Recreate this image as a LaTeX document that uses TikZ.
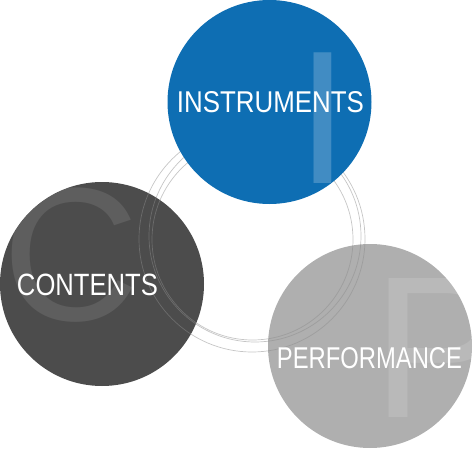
\documentclass[tikz,border=0pt]{standalone}
\usepackage{fontspec}
\setmainfont{Liberation Sans}
\definecolor{blueC}{HTML}{0E6EB3}
\definecolor{darkC}{HTML}{4C4C4C}
\definecolor{grayC}{HTML}{AFAFAF}
\begin{document}
\begin{tikzpicture}[x=1pt,y=-1pt,
  disc/.style={circle, inner sep=0pt, minimum size=204pt},
  ringline/.style={draw=black!45, draw opacity=0.5, line width=0.7pt},
  caption/.style={text=white, inner sep=0pt},
  bigletter/.style={text=white, inner sep=0pt, anchor=base west}]
\useasboundingbox (0,0) rectangle (475,450);
% lower circles
\node[disc, fill=darkC] (contents) at (102,284) {};
\node[disc, fill=grayC] (performance) at (370,346) {};
\begin{scope}
  \clip (contents.center) circle[radius=102pt];
  \node[bigletter, text opacity=0.1, font=\fontsize{190}{190}\selectfont] (bigC) at (2.5,320) {C};
\end{scope}
\begin{scope}
  \clip (performance.center) circle[radius=102pt];
  \node[bigletter, text opacity=0.13, font=\fontsize{202}{202}\selectfont] (bigP) at (372,417) {P};
\end{scope}
% rings
\node[circle, ringline, inner sep=0pt, minimum size=226pt] (ringA) at (252,239) {};
\node[circle, ringline, inner sep=0pt, minimum size=201pt] (ringB) at (252.5,239.5) {};
\node[circle, ringline, inner sep=0pt, minimum size=212pt] (ringC) at (255,236) {};
% top circle
\node[disc, fill=blueC] (instruments) at (269.5,102) {};
\begin{scope}
  \clip (instruments.center) circle[radius=102pt];
  \node[bigletter, text opacity=0.21, font=\fontsize{190}{190}\selectfont] (bigI) at (296,183) {I};
\end{scope}
% labels
\node[caption] (instxt) at (270.5,102.5) {\resizebox{187pt}{21pt}{INSTRUMENTS}};
\node[caption] (contxt) at (87.5,285) {\resizebox{141pt}{21.5pt}{CONTENTS}};
\node[caption] (perftxt) at (369.5,358.5) {\resizebox{185pt}{21pt}{PERFORMANCE}};
\end{tikzpicture}
\end{document}
